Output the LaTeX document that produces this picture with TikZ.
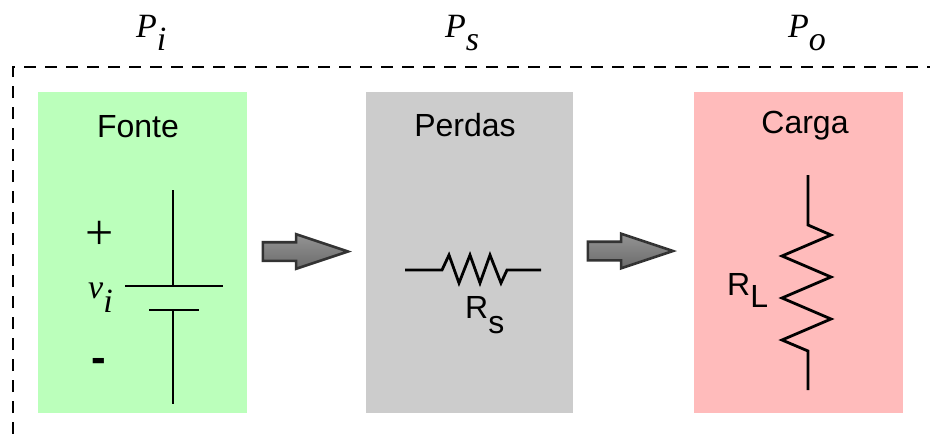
\documentclass[tikz,border=0pt]{standalone}
\usepackage{fontspec}
\setmainfont{Liberation Sans}
\newfontfamily\serifface{Liberation Serif}
\usetikzlibrary{shapes.arrows}
\definecolor{fontefill}{HTML}{BBFFBB}
\definecolor{perdasfill}{HTML}{CCCCCC}
\definecolor{cargafill}{HTML}{FFBBBB}
\newcommand{\lowsub}[3]{#1\raisebox{#3}{#2}}

\begin{document}
\begin{tikzpicture}[
  x=1pt,y=-1pt,
  panel/.style={
    draw=none,minimum width=209pt,minimum height=321pt,inner sep=0pt
  },
  title/.style={
    anchor=base,inner sep=0pt,font=\fontsize{32}{34}\selectfont
  },
  sublabel/.style={
    anchor=base west,inner sep=0pt,font=\fontsize{32}{34}\selectfont
  },
  power/.style={
    anchor=base west,inner sep=0pt,
    font=\fontsize{34}{36}\selectfont\serifface\itshape
  },
  wire/.style={draw=black,line width=2.8pt,line join=miter},
  flow/.style={
    single arrow,draw=black!80,line width=2.6pt,inner sep=0pt,
    minimum height=85pt,minimum width=33pt,
    text height=16pt,text depth=0pt,text width=0pt,
    single arrow head extend=8pt,single arrow tip angle=37,
    single arrow head indent=0pt,
    top color=black!42,bottom color=black!58
  }
]
\useasboundingbox (0,0) rectangle (930,434);

\node[panel,fill=fontefill] (fonte) at (142.5,252.5) {};
\node[panel,fill=perdasfill,minimum width=207pt] (perdas) at (469,252.5) {};
\node[panel,fill=cargafill] (carga) at (798.5,252.5) {};

\node[title] (fontetext) at (138,137) {Fonte};
\node[title] (perdastext) at (465,136) {Perdas};
\node[title] (cargatext) at (805,133) {Carga};

\node[power] (pi) at (136,37) {\lowsub{P}{i}{-13pt}};
\node[power] (ps) at (445,37) {\lowsub{P}{s}{-13pt}};
\node[power] (po) at (788,37) {\lowsub{P}{o}{-13pt}};

% boundary
\draw[black,line width=2.8pt,dash pattern=on 12pt off 9pt]
  (13,434) -- (13,67) -- (930,67);

% source
\draw[wire] (173,190) -- (173,286);
\draw[wire] (125,286) -- (223,286);
\draw[wire] (149,310) -- (199,310);
\draw[wire] (173,310) -- (173,404);
\node[anchor=center,inner sep=0pt,font=\fontsize{50}{54}\selectfont\serifface] (plus) at (100,235) {+};
\node[power] (vi) at (88,298) {\lowsub{v}{i}{-14pt}};
\node[anchor=base,inner sep=0pt,font=\fontsize{44}{50}\selectfont\bfseries] (minus) at (99,372) {-};

% losses
\draw[wire] (405,270) -- (442,270) -- (449,255) -- (459,283) -- (470,255)
  -- (480,283) -- (490,255) -- (501,283) -- (507,270) -- (541,270);
\node[sublabel] (rs) at (465,318) {\lowsub{R}{s}{-15pt}};

% load
\draw[wire] (808,175) -- (808,225) -- (831,235) -- (782,256) -- (831,277)
  -- (782,298) -- (831,319) -- (782,340) -- (808,351) -- (808,390);
\node[sublabel] (rl) at (727,295) {\lowsub{R}{L}{-12pt}};

\node[flow] (flowa) at (291.5,251.5) {};
\node[flow] (flowb) at (616.5,251) {};

\end{tikzpicture}
\end{document}
